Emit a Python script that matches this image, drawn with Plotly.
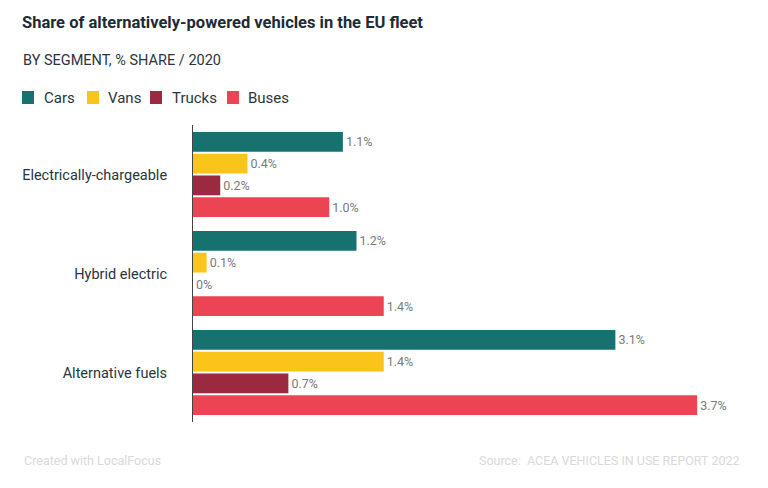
import plotly.graph_objects as go

categories = ["Electrically-chargeable", "Hybrid electric", "Alternative fuels"]
series_names = ["Cars", "Vans", "Trucks", "Buses"]
cars = [1.1, 1.2, 3.1]
vans = [0.4, 0.1, 1.4]
trucks = [0.2, 0.0, 0.7]
buses = [1.0, 1.4, 3.7]
colors = ["#17716f", "#f9c51a", "#9b2940", "#ec4452"]

# page offset (browser body margin) compensation
OFF = 8
W, H = 768 - OFF, 488 - OFF
L, R, T, B = 193 - OFF, 30, 125 - OFF, 66
PW, PH = W - L - R, H - T - B


def px_x(x):
    return (x - OFF - L) / PW


def px_y(y):
    return 1 - (y - OFF - T) / PH


def fmt(v):
    return "0%" if v == 0 else f"{v:.1f}%"


fig = go.Figure()
for name, vals, col in zip(series_names, [cars, vans, trucks, buses], colors):
    fig.add_trace(go.Bar(
        y=categories, x=vals, name=name, orientation="h",
        marker=dict(color=col, line=dict(width=0)),
        text=[fmt(v) for v in vals], textposition="outside",
        textfont=dict(family="Roboto", size=12.5, color="#7a7a7a"),
        cliponaxis=False, showlegend=False,
    ))

fig.update_layout(
    width=W, height=H,
    barmode="group", bargap=0.12, bargroupgap=0.09,
    margin=dict(l=L, r=R, t=T, b=B),
    plot_bgcolor="white", paper_bgcolor="white",
    font=dict(family="Roboto", color="#333333"),
    title=dict(text="<b>Share of alternatively-powered vehicles in the EU fleet</b>",
               x=(22 - OFF) / W, xanchor="left", xref="container",
               y=1 - (22 - OFF) / H, yanchor="middle", yref="container",
               font=dict(family="Roboto", size=16.5, color="#1d2b36")),
    showlegend=False,
)
fig.update_xaxes(range=[0, 4.0], visible=False, showgrid=False, zeroline=False)
fig.update_yaxes(autorange="reversed", showline=True, linecolor="#444444", linewidth=1,
                 ticks="", ticklabelstandoff=22,
                 tickfont=dict(family="Roboto", size=14.5, color="#2a3540"),
                 showgrid=False)

# subtitle
fig.add_annotation(text="BY SEGMENT, % SHARE / 2020", xref="paper", yref="paper",
                   x=px_x(21), xanchor="left", y=px_y(60), yanchor="middle",
                   showarrow=False, font=dict(family="Roboto", size=14.5, color="#2a3540"))

# custom legend
leg_sq_x = [22, 87, 150, 227]
leg_tx_x = [42, 106, 170, 246]
for name, col, sx, tx in zip(series_names, colors, leg_sq_x, leg_tx_x):
    fig.add_shape(type="rect", xref="paper", yref="paper",
                  x0=px_x(sx), x1=px_x(sx + 12), y0=px_y(104), y1=px_y(91),
                  fillcolor=col, line=dict(width=0))
    fig.add_annotation(text=name, xref="paper", yref="paper",
                       x=px_x(tx), xanchor="left", y=px_y(97.5), yanchor="middle",
                       showarrow=False, font=dict(family="Roboto", size=15, color="#2a3540"))

# footer
fig.add_annotation(text="Created with LocalFocus", xref="paper", yref="paper",
                   x=px_x(22), xanchor="left", y=px_y(460), yanchor="middle",
                   showarrow=False, font=dict(family="Roboto", size=12.5, color="#d9d9d9"))
fig.add_annotation(text="Source:  ACEA VEHICLES IN USE REPORT 2022", xref="paper", yref="paper",
                   x=px_x(742), xanchor="right", y=px_y(460), yanchor="middle",
                   showarrow=False, font=dict(family="Roboto", size=12.5, color="#d9d9d9"))

fig.write_html("out.html")
